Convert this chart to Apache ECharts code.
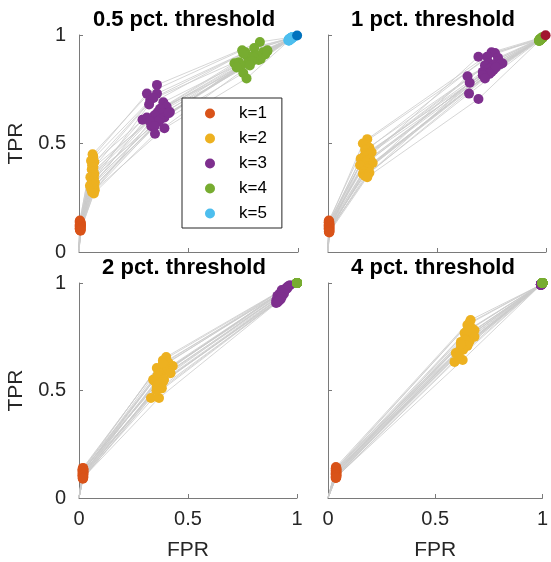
<!DOCTYPE html>
<html>
<head>
<meta charset="utf-8">
<script src="https://cdn.jsdelivr.net/npm/echarts@6/dist/echarts.min.js"></script>
<style>html,body{margin:0;padding:0;background:#fff;}#c{width:551px;height:562px;}</style>
</head>
<body>
<div id="c"></div>
<script>
// ---------- Panel titles / tick labels ----------
const panelTitles = ['0.5 pct. threshold', '1 pct. threshold', '2 pct. threshold', '4 pct. threshold'];
const tickValues = [0, 0.5, 1];
const legendNames = ['k=1', 'k=2', 'k=3', 'k=4', 'k=5'];
const kColors = ['#D95319', '#EDB120', '#7E2F8E', '#77AC30', '#4DBEEE', '#A2142F', '#0072BD'];

// ---------- 0.5 pct. threshold (k = 1..5) ----------
const th05_fpr_k1 = [0.004,0.006,0.003,0.008,0.005,0.007,0.004,0.006,0.009,0.005,0.003,0.007,0.006,0.004,0.008,0.005,0.006,0.003,0.007,0.005,0.004,0.008,0.006,0.005,0.007];
const th05_tpr_k1 = [0.145,0.14,0.138,0.135,0.132,0.13,0.128,0.127,0.125,0.124,0.122,0.12,0.118,0.117,0.115,0.113,0.112,0.11,0.108,0.107,0.105,0.104,0.102,0.1,0.098];
const th05_fpr_k2 = [0.062,0.065,0.055,0.07,0.06,0.066,0.058,0.064,0.07,0.062,0.052,0.068,0.065,0.06,0.072,0.058,0.066,0.05,0.07,0.062,0.055,0.072,0.066,0.06,0.068];
const th05_tpr_k2 = [0.45,0.44,0.42,0.415,0.40,0.39,0.38,0.37,0.36,0.355,0.345,0.34,0.33,0.325,0.32,0.315,0.31,0.305,0.30,0.295,0.29,0.285,0.28,0.275,0.27];
const th05_fpr_k3 = [0.356,0.31,0.325,0.385,0.356,0.40,0.34,0.37,0.415,0.29,0.36,0.38,0.32,0.345,0.39,0.35,0.31,0.33,0.41,0.37,0.36,0.325,0.345,0.39,0.347];
const th05_tpr_k3 = [0.77,0.73,0.70,0.69,0.73,0.67,0.71,0.66,0.645,0.61,0.645,0.64,0.68,0.63,0.62,0.60,0.62,0.58,0.64,0.61,0.60,0.60,0.58,0.57,0.545];
const th05_fpr_k4 = [0.826,0.745,0.77,0.84,0.80,0.86,0.76,0.82,0.85,0.71,0.79,0.83,0.75,0.78,0.81,0.77,0.73,0.74,0.86,0.80,0.79,0.72,0.75,0.765,0.78];
const th05_tpr_k4 = [0.968,0.93,0.90,0.92,0.94,0.93,0.92,0.885,0.91,0.87,0.90,0.89,0.915,0.88,0.905,0.87,0.875,0.86,0.925,0.895,0.88,0.85,0.825,0.80,0.86];
const th05_fpr_k5 = [0.972,0.965,0.962,0.97,0.972,0.975,0.965,0.968,0.975,0.958,0.965,0.97,0.962,0.966,0.97,0.96,0.958,0.96,0.975,0.966,0.964,0.956,0.958,0.96,0.962];
const th05_tpr_k5 = [0.99,0.985,0.982,0.986,0.988,0.99,0.985,0.982,0.987,0.978,0.982,0.986,0.983,0.981,0.986,0.978,0.978,0.977,0.99,0.982,0.981,0.975,0.975,0.975,0.978];
const th05_extra_fpr = [0.996];
const th05_extra_tpr = [0.998];

// ---------- 1 pct. threshold (k = 1..4) ----------
const th1_fpr_k1 = [0.004,0.006,0.003,0.005,0.007,0.004,0.006,0.005,0.003,0.007,0.004,0.006,0.005,0.004,0.007,0.003,0.006,0.005,0.004,0.006,0.005,0.007,0.004,0.005,0.006];
const th1_tpr_k1 = [0.145,0.14,0.137,0.135,0.13,0.128,0.126,0.124,0.122,0.12,0.118,0.116,0.114,0.112,0.11,0.108,0.106,0.104,0.102,0.1,0.098,0.096,0.094,0.092,0.09];
const th1_fpr_k2 = [0.18,0.16,0.19,0.17,0.20,0.175,0.185,0.165,0.15,0.195,0.18,0.17,0.205,0.16,0.19,0.175,0.185,0.147,0.18,0.165,0.19,0.16,0.18,0.17,0.18];
const th1_tpr_k2 = [0.52,0.50,0.48,0.47,0.46,0.455,0.45,0.44,0.43,0.425,0.42,0.415,0.41,0.40,0.395,0.39,0.385,0.40,0.38,0.37,0.365,0.36,0.355,0.35,0.345];
const th1_fpr_k3 = [0.75,0.766,0.73,0.78,0.80,0.757,0.74,0.72,0.71,0.78,0.76,0.74,0.79,0.73,0.76,0.75,0.77,0.69,0.74,0.71,0.72,0.64,0.65,0.647,0.69];
const th1_tpr_k3 = [0.92,0.917,0.90,0.895,0.87,0.85,0.87,0.86,0.83,0.88,0.86,0.845,0.865,0.825,0.84,0.83,0.85,0.90,0.82,0.815,0.80,0.81,0.78,0.73,0.705];
const th1_fpr_k4 = [0.985,0.98,0.975,0.98,0.985,0.978,0.975,0.972,0.97,0.982,0.978,0.975,0.984,0.972,0.978,0.976,0.98,0.97,0.974,0.972,0.973,0.968,0.97,0.968,0.97];
const th1_tpr_k4 = [0.99,0.988,0.984,0.986,0.988,0.982,0.982,0.98,0.978,0.985,0.982,0.98,0.986,0.978,0.982,0.98,0.984,0.976,0.979,0.977,0.978,0.974,0.975,0.973,0.974];
const th1_extra_fpr = [0.998];
const th1_extra_tpr = [0.999];

// ---------- 2 pct. threshold (k = 1..4) ----------
const th2_fpr_k1 = [0.018,0.02,0.016,0.019,0.021,0.017,0.018,0.02,0.016,0.019,0.018,0.021,0.017,0.019,0.018,0.02,0.016,0.018,0.019,0.017,0.02,0.018,0.019,0.017,0.018];
const th2_tpr_k1 = [0.14,0.137,0.134,0.132,0.13,0.128,0.126,0.124,0.122,0.12,0.118,0.116,0.114,0.112,0.11,0.108,0.106,0.104,0.102,0.1,0.098,0.096,0.094,0.092,0.09];
const th2_fpr_k2 = [0.40,0.385,0.41,0.43,0.357,0.417,0.40,0.39,0.37,0.385,0.42,0.34,0.38,0.37,0.36,0.39,0.357,0.35,0.385,0.37,0.36,0.38,0.33,0.367,0.355];
const th2_tpr_k2 = [0.656,0.64,0.63,0.614,0.605,0.60,0.595,0.62,0.58,0.628,0.58,0.55,0.565,0.558,0.57,0.55,0.516,0.54,0.54,0.53,0.525,0.51,0.465,0.465,0.50];
const th2_fpr_k3 = [0.968,0.954,0.96,0.945,0.93,0.95,0.94,0.955,0.92,0.945,0.935,0.91,0.93,0.925,0.94,0.92,0.915,0.905,0.93,0.92,0.91,0.925,0.904,0.91,0.915];
const th2_tpr_k3 = [0.99,0.98,0.985,0.97,0.967,0.975,0.96,0.975,0.95,0.965,0.955,0.94,0.944,0.94,0.95,0.93,0.925,0.92,0.935,0.92,0.915,0.925,0.907,0.91,0.915];
const th2_fpr_k4 = [1,1,1,1,1,1,1,1,1,1,1,1,1,1,1,1,1,1,1,1,1,1,1,1,1];
const th2_tpr_k4 = [1,1,1,1,1,1,1,1,1,1,1,1,1,1,1,1,1,1,1,1,1,1,1,1,1];

// ---------- 4 pct. threshold (k = 1..4) ----------
const th4_fpr_k1 = [0.037,0.039,0.036,0.038,0.04,0.037,0.036,0.039,0.038,0.037,0.04,0.036,0.038,0.037,0.039,0.036,0.038,0.04,0.037,0.038,0.036,0.039,0.037,0.038,0.036];
const th4_tpr_k1 = [0.144,0.14,0.137,0.134,0.132,0.13,0.128,0.126,0.124,0.122,0.12,0.118,0.116,0.114,0.112,0.11,0.108,0.106,0.104,0.102,0.1,0.098,0.096,0.094,0.093];
const th4_fpr_k2 = [0.665,0.65,0.683,0.66,0.67,0.637,0.665,0.683,0.65,0.62,0.67,0.66,0.65,0.64,0.655,0.65,0.635,0.645,0.62,0.63,0.596,0.628,0.59,0.61,0.62];
const th4_tpr_k2 = [0.828,0.805,0.78,0.815,0.79,0.767,0.744,0.75,0.76,0.726,0.77,0.73,0.707,0.74,0.72,0.78,0.735,0.71,0.70,0.69,0.674,0.642,0.633,0.66,0.715];
const th4_fpr_k3 = [0.993,0.993,0.993,0.993,0.993,0.993,0.993,0.993,0.993,0.993,0.993,0.993,0.993,0.993,0.993,0.993,0.993,0.993,0.993,0.993,0.993,0.993,0.993,0.993,0.993];
const th4_tpr_k3 = [0.992,0.992,0.992,0.992,0.992,0.992,0.992,0.992,0.992,0.992,0.992,0.992,0.992,0.992,0.992,0.992,0.992,0.992,0.992,0.992,0.992,0.992,0.992,0.992,0.992];
const th4_fpr_k4 = [1,1,1,1,1,1,1,1,1,1,1,1,1,1,1,1,1,1,1,1,1,1,1,1,1];
const th4_tpr_k4 = [1,1,1,1,1,1,1,1,1,1,1,1,1,1,1,1,1,1,1,1,1,1,1,1,1];

// ---------- assemble ----------
const panels = [
  { fpr: [th05_fpr_k1, th05_fpr_k2, th05_fpr_k3, th05_fpr_k4, th05_fpr_k5], tpr: [th05_tpr_k1, th05_tpr_k2, th05_tpr_k3, th05_tpr_k4, th05_tpr_k5], extra: { fpr: th05_extra_fpr, tpr: th05_extra_tpr, color: kColors[6] } },
  { fpr: [th1_fpr_k1, th1_fpr_k2, th1_fpr_k3, th1_fpr_k4], tpr: [th1_tpr_k1, th1_tpr_k2, th1_tpr_k3, th1_tpr_k4], extra: { fpr: th1_extra_fpr, tpr: th1_extra_tpr, color: kColors[5] } },
  { fpr: [th2_fpr_k1, th2_fpr_k2, th2_fpr_k3, th2_fpr_k4], tpr: [th2_tpr_k1, th2_tpr_k2, th2_tpr_k3, th2_tpr_k4], extra: null },
  { fpr: [th4_fpr_k1, th4_fpr_k2, th4_fpr_k3, th4_fpr_k4], tpr: [th4_tpr_k1, th4_tpr_k2, th4_tpr_k3, th4_tpr_k4], extra: null }
];

const FONT = '"Liberation Sans", Arial, Helvetica, sans-serif';
const grids = [
  { left: 79, top: 35, width: 219, height: 217 },
  { left: 328, top: 35, width: 218, height: 217 },
  { left: 79, top: 283, width: 218, height: 215 },
  { left: 328, top: 283, width: 218, height: 215 }
];
const titleCenters = [[179, 4], [428, 4], [179, 252], [428, 252]];

const xAxes = [], yAxes = [], series = [], titles = [];
panels.forEach((p, i) => {
  const bottomRow = i >= 2, leftCol = i % 2 === 0;
  const axisCommon = {
    type: 'value', min: 0, max: 1, interval: 0.5, gridIndex: i,
    splitLine: { show: false },
    axisLine: { show: true, onZero: false, lineStyle: { color: '#7a7a7a', width: 1 } },
    axisTick: { show: true, inside: true, length: 4, lineStyle: { color: '#7a7a7a' } },
    nameTextStyle: { fontFamily: FONT, fontSize: 21, color: '#262626' }
  };
  xAxes.push(Object.assign({}, axisCommon, {
    axisLabel: { show: bottomRow, fontFamily: FONT, fontSize: 20, color: '#262626', margin: 11, showMinLabel: true, showMaxLabel: true },
    name: bottomRow ? 'FPR' : '', nameLocation: 'middle', nameGap: 42
  }));
  yAxes.push(Object.assign({}, axisCommon, {
    axisLabel: { show: leftCol, fontFamily: FONT, fontSize: 20, color: '#262626', margin: 13, showMinLabel: true, showMaxLabel: true },
    name: leftCol ? 'TPR' : '', nameLocation: 'middle', nameGap: 52
  }));
  titles.push({
    text: panelTitles[i], left: titleCenters[i][0], top: titleCenters[i][1], textAlign: 'center',
    textStyle: { fontFamily: FONT, fontSize: 22, fontWeight: 'bold', color: '#000' }
  });
  const nCurves = p.fpr[0].length;
  const curves = [];
  for (let c = 0; c < nCurves; c++) {
    const coords = [[0, 0]];
    for (let k = 0; k < p.fpr.length; k++) coords.push([p.fpr[k][c], p.tpr[k][c]]);
    coords.push([1, 1]);
    curves.push({ coords: coords });
  }
  series.push({
    type: 'lines', coordinateSystem: 'cartesian2d', xAxisIndex: i, yAxisIndex: i,
    polyline: true, silent: true, z: 1,
    lineStyle: { color: '#cccccc', width: 0.8, opacity: 1 },
    data: curves
  });
  for (let k = 0; k < p.fpr.length; k++) {
    series.push({
      type: 'scatter', name: 'k=' + (k + 1), xAxisIndex: i, yAxisIndex: i,
      symbol: 'circle', symbolSize: 10, clip: false, z: 2 + k,
      itemStyle: { color: kColors[k], opacity: 1 },
      data: p.fpr[k].map((x, j) => [x, p.tpr[k][j]])
    });
  }
  if (p.extra) {
    series.push({
      type: 'scatter', name: 'end', xAxisIndex: i, yAxisIndex: i,
      symbol: 'circle', symbolSize: 10, clip: false, z: 10,
      itemStyle: { color: p.extra.color, opacity: 1 },
      data: p.extra.fpr.map((x, j) => [x, p.extra.tpr[j]])
    });
  }
});

const chart = echarts.init(document.getElementById('c'), null, { renderer: 'canvas' });
chart.setOption({
  backgroundColor: '#ffffff',
  animation: false,
  title: titles,
  grid: grids,
  xAxis: xAxes,
  yAxis: yAxes,
  legend: {
    data: legendNames, orient: 'vertical', left: 182, top: 98,
    padding: [7, 15, 6, 23], itemWidth: 10, itemHeight: 10, itemGap: 8,
    backgroundColor: '#ffffff', borderColor: '#262626', borderWidth: 1,
    icon: 'circle', selectedMode: false,
    textStyle: { fontFamily: FONT, fontSize: 17, color: '#000', lineHeight: 16, padding: [0, 0, 0, 19] }
  },
  series: series
});
</script>
</body>
</html>
